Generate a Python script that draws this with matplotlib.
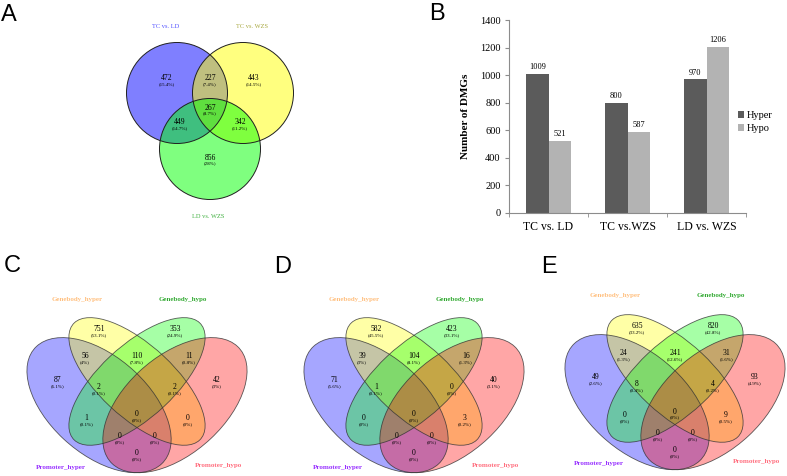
import matplotlib.pyplot as plt
import numpy as np
from matplotlib.patches import Circle, Ellipse
from matplotlib.transforms import Affine2D

plt.rcParams["font.family"] = ["Liberation Serif", "DejaVu Serif"]

# --- data ---------------------------------------------------------------
# A: three-way Venn of DMGs between the comparisons
venn3_names = ["TC vs. LD", "TC vs. WZS", "LD vs. WZS"]
venn3_regions = ["1", "2", "3", "12", "13", "23", "123"]
venn3_counts = [472, 443, 856, 227, 449, 342, 267]

# B: hyper / hypo DMGs per comparison
comparisons = ["TC vs. LD", "TC vs.WZS", "LD vs. WZS"]
hyper = [1009, 800, 970]
hypo = [521, 587, 1206]

# C-E: promoter / gene body overlap (PH, GH, GO, PO)
venn4_names = ["Promoter_hyper", "Genebody_hyper", "Genebody_hypo", "Promoter_hypo"]
venn4_regions = ["GH", "GO", "PH", "PO", "PH&GH", "GH&GO", "GO&PO",
                 "PH&GH&GO", "GH&GO&PO", "all", "PH&GO", "GH&PO",
                 "PH&GO&PO", "PH&GH&PO", "PH&PO"]
counts_c = [751, 353, 87, 42, 56, 110, 11, 2, 2, 0, 1, 0, 0, 0, 0]
counts_d = [582, 423, 71, 40, 39, 104, 16, 1, 0, 0, 0, 3, 0, 0, 0]
counts_e = [635, 820, 49, 93, 24, 241, 31, 8, 4, 0, 0, 9, 0, 0, 0]


def pct(n, total):
    p = round(100 * n / total, 1)
    return f"({p:g}%)"


W, H = 787, 476
fig = plt.figure(figsize=(W / 100, H / 100), dpi=100)
canvas = fig.add_axes([0, 0, 1, 1])
canvas.set_xlim(0, W)
canvas.set_ylim(H, 0)
canvas.axis("off")

letter_kw = dict(fontsize=17, family="Liberation Sans", ha="left", va="baseline")

# --- A: three-way Venn --------------------------------------------------
v3_centers = [(177, 93), (243, 93), (210, 149)]
v3_radius = 50.5
v3_colors = ["#0000ff", "#ffff00", "#00ff00"]
v3_label_pos = [(167, 81), (254, 81), (210, 160), (210, 81),
                (180, 125), (240, 125), (210, 110)]
v3_name_pos = [(166, 26), (252, 26), (208, 216)]
v3_name_col = ["#5050ff", "#a8a840", "#40b040"]

for (x, y), c in zip(v3_centers, v3_colors):
    canvas.add_patch(Circle((x, y), v3_radius, fc=c, alpha=0.5, lw=0))
for (x, y) in v3_centers:
    canvas.add_patch(Circle((x, y), v3_radius, fill=False, ec="#202020", lw=0.7))
tot3 = sum(venn3_counts)
for (x, y), n in zip(v3_label_pos, venn3_counts):
    canvas.text(x, y - 2.5, str(n), fontsize=5.5, ha="center", va="center")
    canvas.text(x, y + 3.5, pct(n, tot3), fontsize=3.6, ha="center", va="center")
for (x, y), name, c in zip(v3_name_pos, venn3_names, v3_name_col):
    canvas.text(x, y, name, fontsize=4.6, color=c, ha="center", va="center")
canvas.text(1, 21, "A", **letter_kw)

# --- C-E: four-way Venns ------------------------------------------------
SX, SY = 253, 237
v4_ellipses = [  # x, y, a, b, angle in unit square
    (0.35, 0.47, 0.35, 0.20, 135),
    (0.50, 0.57, 0.35, 0.15, 135),
    (0.50, 0.57, 0.35, 0.15, 45),
    (0.65, 0.47, 0.35, 0.20, 45),
]
v4_colors = ["#0000ff", "#ffff00", "#00ff00", "#ff0000"]
v4_label_pos = [(0.35, 0.78), (0.65, 0.78), (0.185, 0.565), (0.815, 0.565),
                (0.295, 0.665), (0.5, 0.665), (0.705, 0.665),
                (0.35, 0.535), (0.65, 0.535), (0.5, 0.42),
                (0.3, 0.405), (0.7, 0.405), (0.43, 0.33), (0.57, 0.33),
                (0.5, 0.257)]
v4_name_off = [(-76, 50), (-60, -118), (46, -118), (81, 48)]
v4_name_col = ["#9933ff", "#ffc080", "#33aa33", "#ff7080"]


def draw_venn4(cx, cy, counts, letter, lx, ly):
    tr = (Affine2D().translate(-0.5, -0.42).scale(SX, -SY).translate(cx, cy)
          + canvas.transData)
    for (x, y, a, b, ang), col in zip(v4_ellipses, v4_colors):
        canvas.add_patch(Ellipse((x, y), 2 * a, 2 * b, angle=ang, fc=col,
                                 alpha=0.35, lw=0, transform=tr))
    for (x, y, a, b, ang) in v4_ellipses:
        canvas.add_patch(Ellipse((x, y), 2 * a, 2 * b, angle=ang, fill=False,
                                 ec="#333333", lw=0.6, alpha=0.8, transform=tr))
    total = sum(counts)
    for (ux, uy), n in zip(v4_label_pos, counts):
        px = cx + (ux - 0.5) * SX
        py = cy - (uy - 0.42) * SY
        canvas.text(px, py - 2.5, str(n), fontsize=5.5, ha="center", va="center")
        canvas.text(px, py + 3.5, pct(n, total), fontsize=3.6, ha="center", va="center")
    for (dx, dy), name, c in zip(v4_name_off, venn4_names, v4_name_col):
        canvas.text(cx + dx, cy + dy, name, fontsize=5, fontweight="bold",
                    color=c, ha="center", va="center")
    canvas.text(lx, ly, letter, **letter_kw)


draw_venn4(137, 417, counts_c, "C", 4, 272)
draw_venn4(414, 417, counts_d, "D", 274, 273)
draw_venn4(675, 414, counts_e, "E", 541, 273)

# --- B: bar chart -------------------------------------------------------
gray = "#8c8c8c"
ax = fig.add_axes([509 / W, 1 - 213 / H, 237 / W, 193 / H])
ax.patch.set_alpha(0)
x = np.arange(len(comparisons))
w = 0.28
b1 = ax.bar(x - w / 2, hyper, w, color="#5b5b5b", label="Hyper")
b2 = ax.bar(x + w / 2, hypo, w, color="#b3b3b3", label="Hypo")
for bars in (b1, b2):
    ax.bar_label(bars, padding=2, fontsize=6)
ax.set_xlim(-0.5, 2.5)
ax.set_ylim(0, 1400)
ax.set_yticks(range(0, 1401, 200))
ax.set_xticks(x, comparisons, fontsize=8.5)
ax.set_xticks([-0.5, 0.5, 1.5, 2.5], minor=True)
ax.tick_params(axis="x", which="major", length=0, pad=6)
ax.tick_params(axis="x", which="minor", length=3, color=gray)
ax.tick_params(axis="y", length=3, color=gray, labelsize=7.5, pad=3)
for s in ("top", "right"):
    ax.spines[s].set_visible(False)
for s in ("left", "bottom"):
    ax.spines[s].set_color(gray)
    ax.spines[s].set_linewidth(0.8)
ax.set_ylabel("Number of DMGs", fontweight="bold", fontsize=8)
ax.yaxis.set_label_coords(-0.165, 0.5)
ax.legend(loc="center left", bbox_to_anchor=(0.965, 0.47), frameon=False,
          fontsize=7.5, handlelength=0.6, handleheight=0.6, handletextpad=0.3,
          labelspacing=0.35, borderaxespad=0, borderpad=0)
canvas.text(429, 20, "B", **letter_kw)

fig.savefig("out.png", dpi=100)
